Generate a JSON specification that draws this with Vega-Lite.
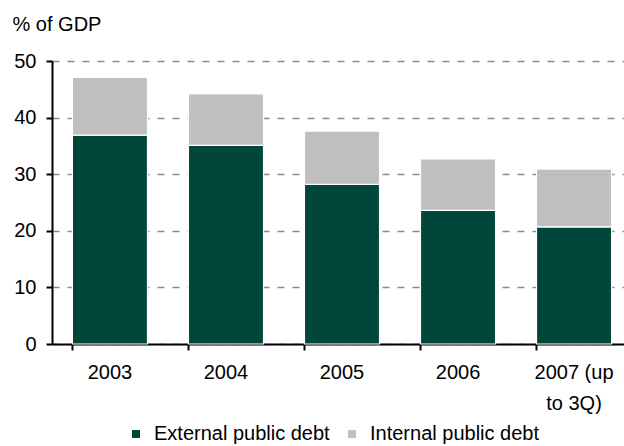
{
  "$schema": "https://vega.github.io/schema/vega-lite/v6.json",
  "autosize": "none",
  "width": 580,
  "height": 283,
  "padding": {"left": 52, "top": 61, "right": 0, "bottom": 102},
  "background": "white",
  "config": {
    "font": "Liberation Sans",
    "view": {"stroke": null}
  },
  "data": {
    "values": [
      {"year": "2003", "type": "External public debt", "value": 36.9},
      {"year": "2003", "type": "Internal public debt", "value": 10.2},
      {"year": "2004", "type": "External public debt", "value": 35.1},
      {"year": "2004", "type": "Internal public debt", "value": 9.1},
      {"year": "2005", "type": "External public debt", "value": 28.2},
      {"year": "2005", "type": "Internal public debt", "value": 9.4},
      {"year": "2006", "type": "External public debt", "value": 23.6},
      {"year": "2006", "type": "Internal public debt", "value": 9.1},
      {"year": "2007 (up to 3Q)", "type": "External public debt", "value": 20.7},
      {"year": "2007 (up to 3Q)", "type": "Internal public debt", "value": 10.2}
    ]
  },
  "mark": {"type": "bar", "stroke": "white", "strokeWidth": 1.2},
  "encoding": {
    "x": {
      "field": "year",
      "type": "nominal",
      "scale": {"paddingInner": 0.353, "paddingOuter": 0.176},
      "axis": {
        "title": null,
        "labelAngle": 0,
        "labelFontSize": 20,
        "labelColor": "#000000",
        "labelPadding": 12,
        "labelLineHeight": 31,
        "labelExpr": "datum.value == '2007 (up to 3Q)' ? ['2007 (up', 'to 3Q)'] : datum.value",
        "bandPosition": 0,
        "tickSize": 6,
        "tickColor": "#000000",
        "tickWidth": 2,
        "domainColor": "#000000",
        "domainWidth": 2,
        "grid": false
      }
    },
    "y": {
      "field": "value",
      "type": "quantitative",
      "stack": "zero",
      "scale": {"domain": [0, 50], "nice": false},
      "axis": {
        "values": [0, 10, 20, 30, 40, 50],
        "title": "% of GDP",
        "titleAngle": 0,
        "titleAlign": "left",
        "titleBaseline": "alphabetic",
        "titleX": -40,
        "titleY": -31,
        "titleFontSize": 20,
        "titleFontWeight": "normal",
        "titleColor": "#000000",
        "labelFontSize": 20,
        "labelColor": "#000000",
        "labelPadding": 10,
        "tickSize": 6,
        "tickColor": "#000000",
        "tickWidth": 2,
        "domainColor": "#000000",
        "domainWidth": 2,
        "grid": true,
        "gridColor": "#8c8c8c",
        "gridDash": [7, 8],
        "gridWidth": 1.3
      }
    },
    "order": {"field": "type", "sort": "ascending"},
    "color": {
      "field": "type",
      "type": "nominal",
      "scale": {
        "domain": ["External public debt", "Internal public debt"],
        "range": ["#01463a", "#bfbfbf"]
      },
      "legend": {
        "title": null,
        "orient": "none",
        "direction": "horizontal",
        "legendX": 74,
        "legendY": 363,
        "symbolType": "square",
        "symbolSize": 64,
        "symbolStrokeWidth": 0,
        "labelFontSize": 20,
        "labelColor": "#000000",
        "labelOffset": 8,
        "columnPadding": 12,
        "labelLimit": 400
      }
    }
  }
}
